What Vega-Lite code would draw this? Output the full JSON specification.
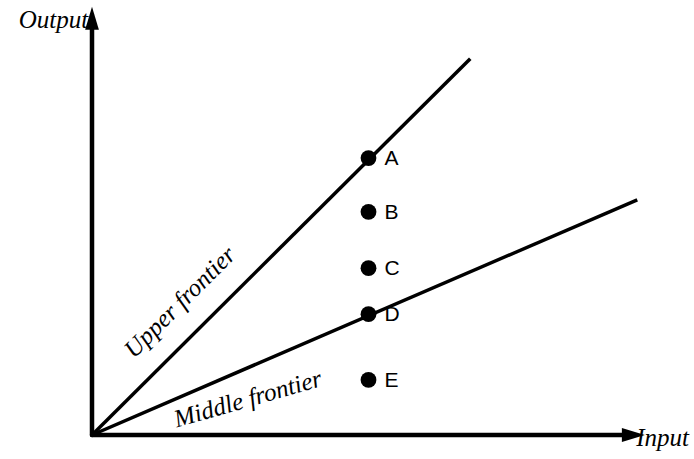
{
  "$schema": "https://vega.github.io/schema/vega-lite/v6.json",
  "width": 553,
  "height": 430,
  "autosize": {"type": "none"},
  "padding": {"left": 92, "top": 5, "right": 49, "bottom": 24},
  "background": "white",
  "config": {"view": {"stroke": null}},
  "layer": [
    {
      "data": {"values": [
        {"axis": "Output", "x": 0, "y": 0, "x2": 0, "y2": 9.6},
        {"axis": "Input", "x": 0, "y": 0, "x2": 9.7, "y2": 0}
      ]},
      "mark": {"type": "rule", "strokeWidth": 4.5, "color": "black", "clip": false, "strokeCap": "round"},
      "encoding": {
        "x": {"field": "x", "type": "quantitative", "scale": {"domain": [0, 10]}, "axis": null},
        "y": {"field": "y", "type": "quantitative", "scale": {"domain": [0, 10]}, "axis": null},
        "x2": {"field": "x2"},
        "y2": {"field": "y2"}
      }
    },
    {
      "data": {"values": [{"x": 0, "y": 9.69}]},
      "mark": {"type": "point", "shape": "M0,-1L0.6,1L-0.6,1Z", "size": 529, "filled": true, "color": "black", "opacity": 1, "clip": false},
      "encoding": {
        "x": {"field": "x", "type": "quantitative"},
        "y": {"field": "y", "type": "quantitative"}
      }
    },
    {
      "data": {"values": [{"x": 9.79, "y": 0}]},
      "mark": {"type": "point", "shape": "M1,0L-1,0.6L-1,-0.6Z", "size": 529, "filled": true, "color": "black", "opacity": 1, "clip": false},
      "encoding": {
        "x": {"field": "x", "type": "quantitative"},
        "y": {"field": "y", "type": "quantitative"}
      }
    },
    {
      "data": {"values": [
        {"frontier": "Upper", "x": 0, "y": 0},
        {"frontier": "Upper", "x": 6.84, "y": 8.75},
        {"frontier": "Middle", "x": 0, "y": 0},
        {"frontier": "Middle", "x": 9.86, "y": 5.47}
      ]},
      "mark": {"type": "line", "strokeWidth": 3.5, "color": "black", "clip": false},
      "encoding": {
        "x": {"field": "x", "type": "quantitative"},
        "y": {"field": "y", "type": "quantitative"},
        "detail": {"field": "frontier"}
      }
    },
    {
      "data": {"values": [
        {"label": "A", "x": 5, "y": 6.44},
        {"label": "B", "x": 5, "y": 5.19},
        {"label": "C", "x": 5, "y": 3.88},
        {"label": "D", "x": 5, "y": 2.81},
        {"label": "E", "x": 5, "y": 1.28}
      ]},
      "layer": [
        {
          "mark": {"type": "point", "filled": true, "size": 250, "color": "black", "opacity": 1},
          "encoding": {
            "x": {"field": "x", "type": "quantitative"},
            "y": {"field": "y", "type": "quantitative"}
          }
        },
        {
          "mark": {"type": "text", "align": "left", "baseline": "middle", "dx": 16, "dy": 1, "font": "Liberation Sans", "fontSize": 21, "color": "black"},
          "encoding": {
            "x": {"field": "x", "type": "quantitative"},
            "y": {"field": "y", "type": "quantitative"},
            "text": {"field": "label"}
          }
        }
      ]
    },
    {
      "data": {"values": [
        {"text": "Output", "x": -0.07, "y": 9.47}
      ]},
      "mark": {"type": "text", "align": "right", "baseline": "alphabetic", "font": "Liberation Serif", "fontStyle": "italic", "fontSize": 25, "color": "black", "clip": false},
      "encoding": {
        "x": {"field": "x", "type": "quantitative"},
        "y": {"field": "y", "type": "quantitative"},
        "text": {"field": "text"}
      }
    },
    {
      "data": {"values": [
        {"text": "Input", "x": 9.84, "y": -0.26}
      ]},
      "mark": {"type": "text", "align": "left", "baseline": "alphabetic", "font": "Liberation Serif", "fontStyle": "italic", "fontSize": 25, "color": "black", "clip": false},
      "encoding": {
        "x": {"field": "x", "type": "quantitative"},
        "y": {"field": "y", "type": "quantitative"},
        "text": {"field": "text"}
      }
    },
    {
      "data": {"values": [
        {"text": "Upper frontier", "x": 1.59, "y": 3.09}
      ]},
      "mark": {"type": "text", "align": "center", "baseline": "middle", "angle": 315, "font": "Liberation Serif", "fontStyle": "italic", "fontSize": 25, "color": "black"},
      "encoding": {
        "x": {"field": "x", "type": "quantitative"},
        "y": {"field": "y", "type": "quantitative"},
        "text": {"field": "text"}
      }
    },
    {
      "data": {"values": [
        {"text": "Middle frontier", "x": 2.82, "y": 0.84}
      ]},
      "mark": {"type": "text", "align": "center", "baseline": "middle", "angle": 344, "font": "Liberation Serif", "fontStyle": "italic", "fontSize": 25, "color": "black"},
      "encoding": {
        "x": {"field": "x", "type": "quantitative"},
        "y": {"field": "y", "type": "quantitative"},
        "text": {"field": "text"}
      }
    }
  ]
}
